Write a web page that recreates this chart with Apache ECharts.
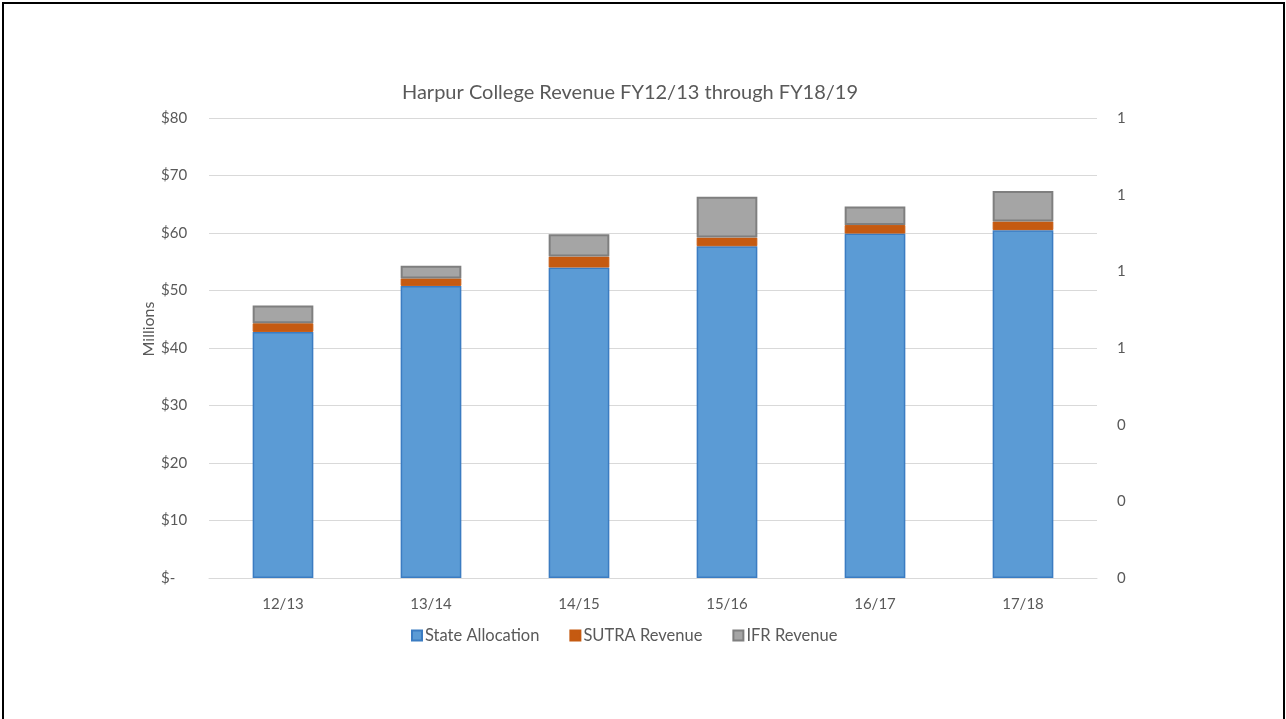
<!DOCTYPE html>
<html>
<head>
<meta charset="utf-8">
<script src="https://cdn.jsdelivr.net/npm/echarts@6/dist/echarts.min.js"></script>
<style>
  html, body { margin: 0; padding: 0; background: #ffffff; }
  #wrap { position: relative; width: 1286px; height: 719px; overflow: hidden; }
  #chart { position: absolute; left: 0; top: 0; width: 1286px; height: 719px; }
  #frame { position: absolute; left: 2px; top: 2px; width: 1279px; height: 760px;
           border: 2px solid #000; border-bottom: none; pointer-events: none; }
</style>
</head>
<body>
<div id="wrap">
  <div id="chart"></div>
  <div id="frame"></div>
</div>
<script>
// Fiscal years (x axis)
const categories = ['12/13', '13/14', '14/15', '15/16', '16/17', '17/18'];
// Revenue by source, $ millions
const stateAllocation = [42.8, 50.8, 54.0, 57.7, 59.9, 60.5];
const sutraRevenue    = [1.5, 1.3, 1.9, 1.5, 1.5, 1.5];
const ifrRevenue      = [3.1, 2.2, 3.9, 7.1, 3.2, 5.3];
const seriesNames = ['State Allocation', 'SUTRA Revenue', 'IFR Revenue'];

const FONT = 'Lato, "Open Sans", sans-serif';
const TEXT = '#595959';

const chart = echarts.init(document.getElementById('chart'), null, { renderer: 'canvas' });

chart.setOption({
  animation: false,
  backgroundColor: '#ffffff',
  title: {
    text: 'Harpur College Revenue FY12/13 through FY18/19',
    left: 625,
    top: 78,
    textAlign: 'center',
    textStyle: { color: TEXT, fontFamily: FONT, fontSize: 20, fontWeight: 'normal' }
  },
  legend: {
    data: seriesNames,
    left: 411,
    top: 627,
    padding: 0,
    icon: 'rect',
    itemWidth: 10,
    itemHeight: 10,
    itemGap: 30,
    textStyle: { color: TEXT, fontFamily: FONT, fontSize: 16.5, padding: [0, 0, 0, -2] }
  },
  grid: { left: 209, right: 189, top: 118, bottom: 141, containLabel: false },
  xAxis: {
    type: 'category',
    data: categories,
    axisLine: { lineStyle: { color: '#D9D9D9', width: 1 } },
    axisTick: { show: false },
    axisLabel: { color: TEXT, fontFamily: FONT, fontSize: 15, margin: 19 }
  },
  yAxis: [
    {
      type: 'value',
      min: 0, max: 80, interval: 10,
      axisLine: { show: false },
      axisTick: { show: false },
      splitLine: { lineStyle: { color: '#D9D9D9', width: 1 } },
      axisLabel: {
        color: TEXT, fontFamily: FONT, fontSize: 15, margin: 48, align: 'left',
        formatter: v => v === 0 ? '$-' : '$' + v
      }
    },
    {
      type: 'value',
      position: 'right',
      min: 0, max: 1.2, interval: 0.2,
      axisLine: { show: false },
      axisTick: { show: false },
      splitLine: { show: false },
      axisLabel: {
        color: TEXT, fontFamily: FONT, fontSize: 15, margin: 20,
        formatter: v => String(Math.round(v))
      }
    }
  ],
  graphic: [
    {
      type: 'text',
      x: 149, y: 329,
      rotation: Math.PI / 2,
      style: {
        text: 'Millions', fill: TEXT, font: '16px ' + FONT,
        align: 'center', verticalAlign: 'middle'
      }
    }
  ],
  series: [
    {
      name: seriesNames[0], type: 'bar', stack: 'rev', barWidth: '41%',
      data: stateAllocation,
      itemStyle: { color: '#5B9BD5', borderColor: '#3B7CC2', borderWidth: 1.5 }
    },
    {
      name: seriesNames[1], type: 'bar', stack: 'rev',
      data: sutraRevenue,
      itemStyle: { color: '#C55A11', borderColor: '#C55A11', borderWidth: 1 }
    },
    {
      name: seriesNames[2], type: 'bar', stack: 'rev',
      data: ifrRevenue,
      itemStyle: { color: '#A5A5A5', borderColor: '#7F7F7F', borderWidth: 2 }
    }
  ]
});
</script>
</body>
</html>
